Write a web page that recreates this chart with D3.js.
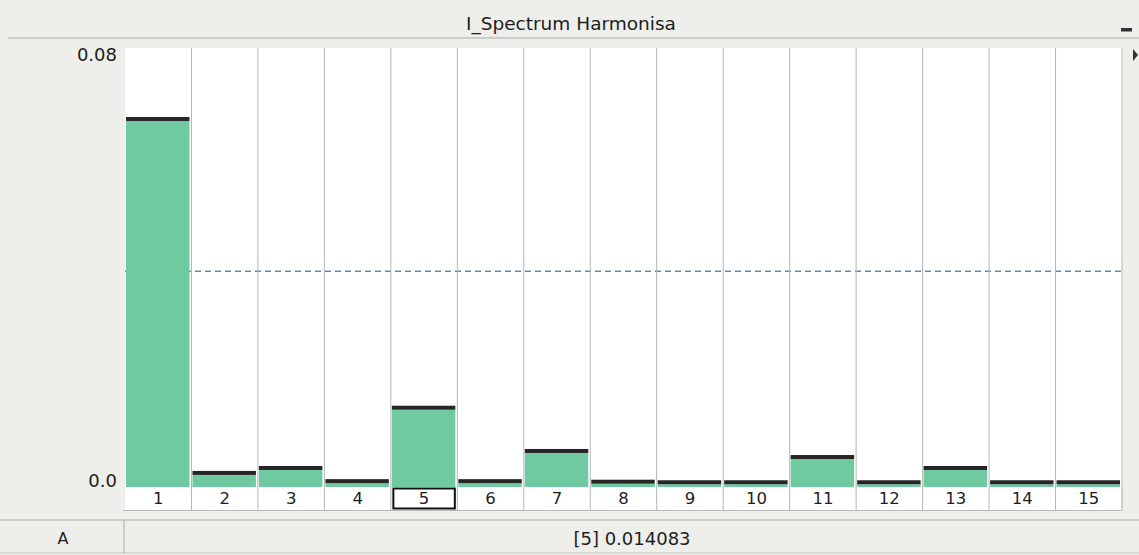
<!DOCTYPE html>
<html>
<head>
<meta charset="utf-8">
<script src="https://cdn.jsdelivr.net/npm/d3@7"></script>
<style>
  html, body { margin: 0; padding: 0; background: #eeeeea; }
  svg { display: block; }
  text { font-family: "DejaVu Sans", sans-serif; fill: #1e1e1e; }
</style>
</head>
<body>
<svg id="chart" width="1139" height="555"></svg>
<script>
// Harmonic orders and their measured amplitudes (A)
const harmonics = [1, 2, 3, 4, 5, 6, 7, 8, 9, 10, 11, 12, 13, 14, 15];
const amplitudes = [0.0667, 0.0022, 0.0031, 0.0007, 0.014083, 0.0007, 0.0062, 0.0006,
                    0.0005, 0.0005, 0.0051, 0.0005, 0.0031, 0.0005, 0.0005];
const limitValue = 0.0393;          // dashed reference level
const yTickValues = [0, 0.08];
const yTickLabels = ["0.0", "0.08"];
const selectedHarmonic = 5;
const titleText = "I_Spectrum Harmonisa";
const unitLabel = "A";

const svg = d3.select("#chart");
const W = 1139, H = 555;
const plot = { left: 125, right: 1122, top: 48, bottom: 487 };
const labelRowBottom = 510;
const statusTop = 520, statusBottom = 553;

const x = d3.scaleBand().domain(harmonics).range([plot.left, plot.right]).padding(0);
const y = d3.scaleLinear().domain([0, 0.08]).range([plot.bottom, plot.top]);

// panel background
svg.append("rect").attr("width", W).attr("height", H).attr("fill", "#eeeeea");

// title bar
svg.append("line").attr("x1", 8).attr("x2", 1139).attr("y1", 38).attr("y2", 38)
  .attr("stroke", "#a9aca6").attr("stroke-width", 1);
svg.append("text").attr("x", 571).attr("y", 30).attr("text-anchor", "middle")
  .style("font-size", "18.5px").text(titleText);
svg.append("rect").attr("x", 1121).attr("y", 28).attr("width", 11).attr("height", 3.5).attr("fill", "#333");
svg.append("path").attr("d", "M1133,49 L1138,55 L1133,61 Z").attr("fill", "#333");

// plot area
svg.append("rect").attr("x", plot.left).attr("y", plot.top)
  .attr("width", plot.right - plot.left).attr("height", labelRowBottom - plot.top)
  .attr("fill", "#ffffff");

// dashed reference level
svg.append("line")
  .attr("x1", plot.left).attr("x2", plot.right)
  .attr("y1", y(limitValue)).attr("y2", y(limitValue))
  .attr("stroke", "#5f89b2").attr("stroke-width", 1.5).attr("stroke-dasharray", "6,4");

// column separators
const seps = harmonics.slice(1).map(h => x(h)).concat([plot.right]);
svg.append("g").selectAll("line").data(seps).join("line")
  .attr("x1", d => d).attr("x2", d => d)
  .attr("y1", plot.top).attr("y2", labelRowBottom)
  .attr("stroke", "#b4b6b4").attr("stroke-width", 1);

// bars
const bw = x.bandwidth();
svg.append("g").selectAll("rect").data(harmonics).join("rect")
  .attr("x", (d) => x(d) + 1)
  .attr("width", bw - 3)
  .attr("y", (d, i) => y(amplitudes[i]))
  .attr("height", (d, i) => plot.bottom - y(amplitudes[i]))
  .attr("fill", "#6fcaa2");

// value caps
svg.append("g").selectAll("rect").data(harmonics).join("rect")
  .attr("x", (d) => x(d) + 1)
  .attr("width", bw - 3)
  .attr("y", (d, i) => y(amplitudes[i]) - 4)
  .attr("height", 4)
  .attr("fill", "#262626");

// category label row
svg.append("rect").attr("x", plot.left).attr("y", plot.bottom)
  .attr("width", plot.right - plot.left).attr("height", labelRowBottom - plot.bottom)
  .attr("fill", "#ffffff");
svg.append("g").selectAll("line").data(seps).join("line")
  .attr("x1", d => d).attr("x2", d => d)
  .attr("y1", plot.bottom).attr("y2", labelRowBottom)
  .attr("stroke", "#b4b6b4");
svg.append("line").attr("x1", plot.left - 2).attr("x2", plot.right)
  .attr("y1", labelRowBottom + 0.5).attr("y2", labelRowBottom + 0.5)
  .attr("stroke", "#b8bab6");

const xAxis = d3.axisBottom(x).tickSize(0).tickPadding(0);
const gx = svg.append("g").attr("transform", `translate(0,${plot.bottom})`).call(xAxis);
gx.select(".domain").remove();
gx.selectAll("text").attr("y", 17).attr("dy", 0)
  .style("font-size", "16.5px").style("font-family", "DejaVu Sans, sans-serif").attr("fill", "#1e1e1e");

// selected harmonic marker
svg.append("rect").attr("x", x(selectedHarmonic) + 2.5).attr("y", plot.bottom + 1.5)
  .attr("width", bw - 5).attr("height", labelRowBottom - plot.bottom - 3)
  .attr("fill", "none").attr("stroke", "#111").attr("stroke-width", 2);

// y axis labels
const yAxis = d3.axisLeft(y).tickValues(yTickValues)
  .tickFormat((d, i) => yTickLabels[i]).tickSize(0).tickPadding(8);
const gy = svg.append("g").attr("transform", `translate(${plot.left},0)`).call(yAxis);
gy.select(".domain").remove();
gy.selectAll("text").style("font-size", "18px").style("font-family", "DejaVu Sans, sans-serif")
  .attr("fill", "#2a2a2a")
  .attr("dy", (d) => d === 0 ? "-0.02em" : "0.68em");

// status bar
svg.append("line").attr("x1", 0).attr("x2", W).attr("y1", statusTop).attr("y2", statusTop)
  .attr("stroke", "#a9aca6");
svg.append("line").attr("x1", 0).attr("x2", W).attr("y1", statusBottom).attr("y2", statusBottom)
  .attr("stroke", "#c2c4c0");
svg.append("line").attr("x1", 124).attr("x2", 124).attr("y1", statusTop).attr("y2", statusBottom)
  .attr("stroke", "#a9aca6");
svg.append("text").attr("x", 63).attr("y", 544).attr("text-anchor", "middle")
  .style("font-size", "16px").text(unitLabel);
const selIdx = harmonics.indexOf(selectedHarmonic);
svg.append("text").attr("x", 632).attr("y", 545).attr("text-anchor", "middle")
  .style("font-size", "18px")
  .text(`[${selectedHarmonic}] ${d3.format(".6f")(amplitudes[selIdx])}`);
</script>
</body>
</html>
